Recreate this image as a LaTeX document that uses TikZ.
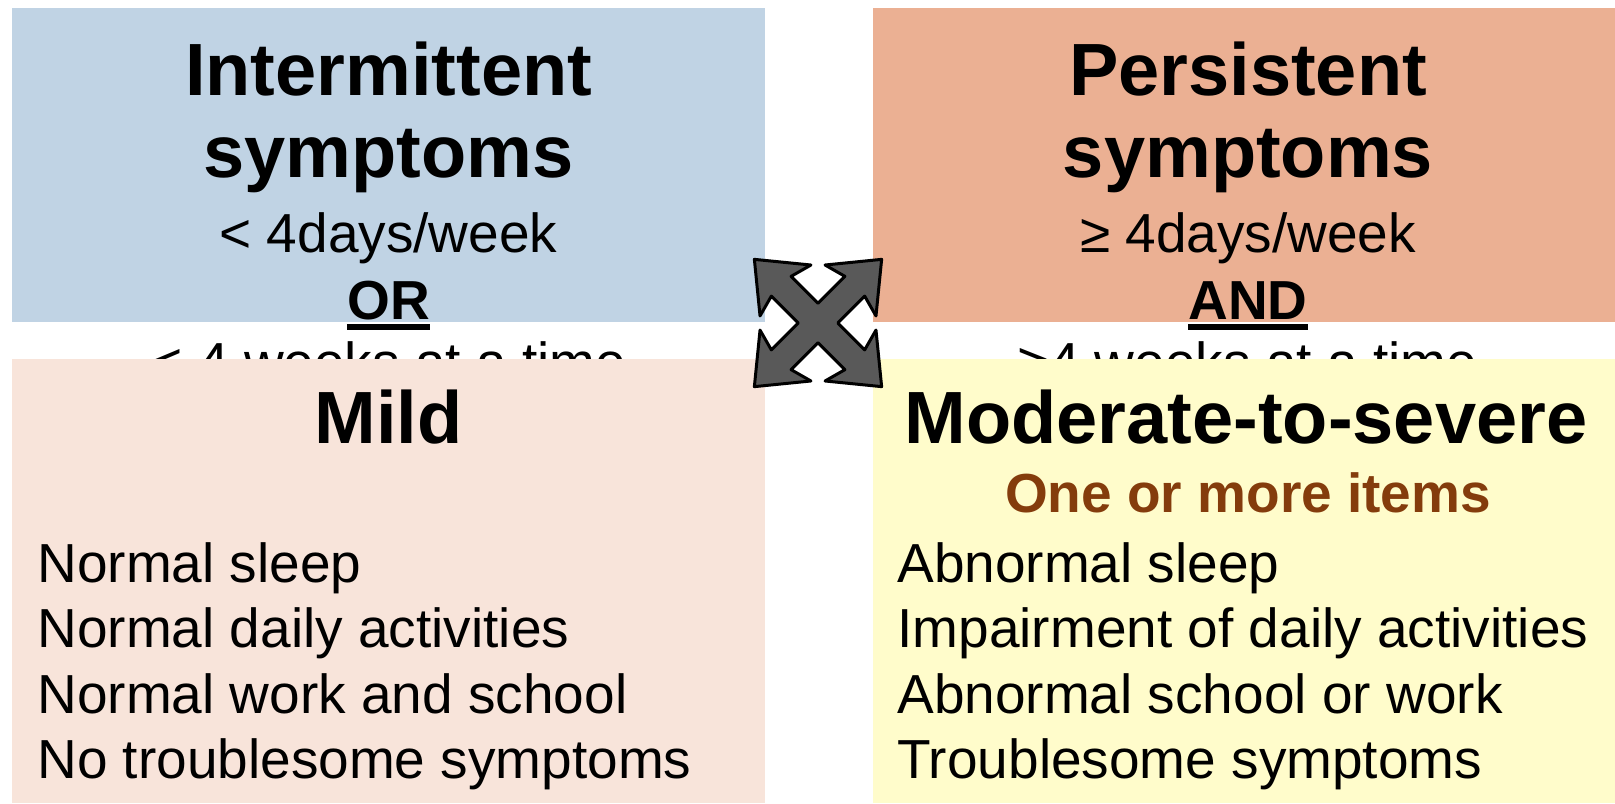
\documentclass[tikz,border=0pt]{standalone}
\usepackage{fontspec}
\setmainfont{Liberation Sans}
\definecolor{blueBox}{HTML}{C0D3E4}
\definecolor{orangeBox}{HTML}{EBB093}
\definecolor{peachBox}{HTML}{F8E4DA}
\definecolor{yellowBox}{HTML}{FFFCCB}
\definecolor{brownText}{HTML}{843C0C}
\definecolor{arrowgray}{HTML}{595959}
\begin{document}
\begin{tikzpicture}[x=0.5pt,y=-0.5pt,
  box/.style={draw=none, inner sep=0, outer sep=0, rectangle},
  title/.style={font=\fontsize{37}{44}\selectfont\bfseries, anchor=base, inner sep=0},
  body/.style={font=\fontsize{27.5}{33}\selectfont, anchor=base, inner sep=0},
  bodyb/.style={body, font=\fontsize{27.5}{33}\selectfont\bfseries},
  item/.style={body, anchor=base west},
  uline/.style={line width=3pt},
  arrowshape/.style={fill=arrowgray, draw=black, line width=1.5pt, line join=round}]
\useasboundingbox (0,0) rectangle (1615,803);
% top-left
\node[box, fill=blueBox, minimum width=376.5pt, minimum height=157pt] (tlbox) at (388.5,165) {};
\node[title] (tlt1) at (388.5,95) {Intermittent};
\node[title] (tlt2) at (388.5,177) {symptoms};
\node[body] (tlt3) at (388.5,252) {< 4days/week};
\node[bodyb] (tlor) at (388.5,319) {OR};
\draw[uline] ([yshift=-4pt]tlor.base west) -- ([yshift=-4pt]tlor.base east);
\node[body] (tlt4) at (388.5,381) {< 4 weeks at a time};
% top-right
\node[box, fill=orangeBox, minimum width=371pt, minimum height=157pt] (trbox) at (1244,165) {};
\node[title] (trt1) at (1248,95) {Persistent};
\node[title] (trt2) at (1248,177) {symptoms};
\node[body] (trt3) at (1248,252) {≥ 4days/week};
\node[bodyb] (trand) at (1248,319) {AND};
\draw[uline] ([yshift=-4pt]trand.base west) -- ([yshift=-4pt]trand.base east);
\node[body] (trt4) at (1248,381) {≥4 weeks at a time};
% bottom-left
\node[box, fill=peachBox, minimum width=376.5pt, minimum height=222pt] (blbox) at (388.5,581) {};
\node[title] (blt) at (388.5,443) {Mild};
\node[item] (bl1) at (37,582) {Normal sleep};
\node[item] (bl2) at (37,647) {Normal daily activities};
\node[item] (bl3) at (37,713) {Normal work and school};
\node[item] (bl4) at (37,778) {No troublesome symptoms};
% bottom-right
\node[box, fill=yellowBox, minimum width=371pt, minimum height=222pt] (brbox) at (1244,581) {};
\node[title] (brt) at (1246,443) {Moderate-to-severe};
\node[bodyb, text=brownText] (brsub) at (1248,512) {One or more items};
\node[item] (br1) at (897,582) {Abnormal sleep};
\node[item] (br2) at (897,647) {Impairment of daily activities};
\node[item] (br3) at (897,713) {Abnormal school or work};
\node[item] (br4) at (897,778) {Troublesome symptoms};
% four-headed arrow
\begin{scope}[shift={(818,323)}, rotate=45]
\filldraw[arrowshape] (14,14) -- (52,14) -- (46,36) -- (90,0) -- (46,-36) -- (52,-14) -- (14,-14)
  -- (14,-52) -- (36,-46) -- (0,-90) -- (-36,-46) -- (-14,-52) -- (-14,-14)
  -- (-52,-14) -- (-46,-36) -- (-90,0) -- (-46,36) -- (-52,14) -- (-14,14)
  -- (-14,52) -- (-36,46) -- (0,90) -- (36,46) -- (14,52) -- cycle;
\end{scope}
\end{tikzpicture}
\end{document}
